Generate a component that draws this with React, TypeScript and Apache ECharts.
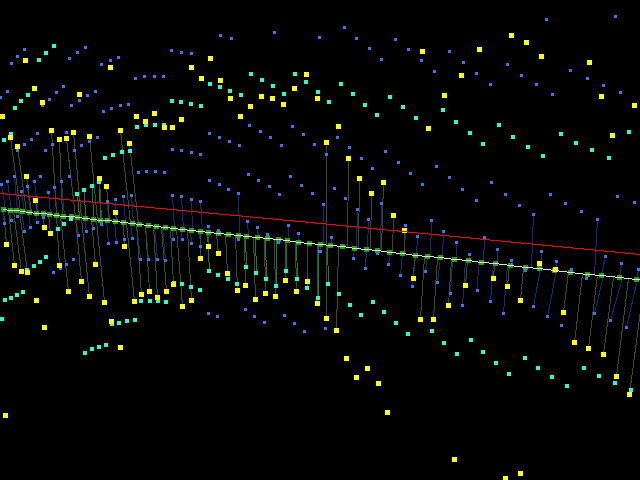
import React, { useEffect, useRef } from "react";
import * as echarts from "echarts";

const redLine = [[0,193],[160,208],[320,223],[495,240],[640,254]];
const baseline = [[3,209],[10,210],[16,210],[22,211],[29,212],[36,213],[43,213],[49,214],[56,215],[63,216],[71,216],[77,217],[85,218],[93,219],[100,220],[107,220],[115,221],[123,222],[132,223],[139,224],[148,225],[156,226],[165,227],[173,228],[182,229],[191,230],[200,231],[208,232],[218,233],[228,234],[238,235],[246,236],[257,237],[267,238],[278,239],[287,240],[298,242],[309,243],[320,244],[330,245],[342,246],[354,248],[366,249],[377,250],[389,252],[402,253],[415,255],[427,256],[440,257],[454,259],[468,260],[481,262],[495,263],[510,265],[525,267],[539,268],[554,270],[570,272],[587,274],[601,275],[619,277],[636,279],[654,281]];

const yellowFree = [[25,60],[110,67],[210,58],[191,67],[201,78],[220,80],[306,74],[294,88],[34,88],[79,94],[42,102],[2,116],[230,98],[261,96],[272,98],[283,104],[317,98],[250,106],[240,116],[136,116],[154,113],[145,121],[181,119],[164,127],[172,127],[511,35],[526,42],[541,56],[479,49],[422,51],[589,62],[461,75],[444,95],[601,96],[634,105],[428,128],[612,135],[338,126],[36,300],[44,327],[111,321],[120,347],[5,415],[346,358],[367,368],[356,377],[378,383],[387,412],[454,459],[520,473],[505,478]];
// mark x, mark y, x where its stem meets the baseline
const yellowStems = [[10,137,20],[17,146,26],[26,176,31],[35,200,37],[44,227,42],[50,233,48],[51,130,56],[59,139,62],[66,138,75],[73,132,81],[89,136,97],[99,178,101],[106,186,109],[115,212,116],[120,130,130],[129,143,138],[326,142,326],[348,158,347],[359,178,358],[383,182,381],[371,193,370],[393,215,392],[404,230,404],[14,265,8],[21,271,13],[27,272,19],[6,244,3],[59,265,56],[68,291,60],[81,281,75],[89,296,81],[95,264,91],[104,302,96],[124,246,123],[134,301,126],[141,294,136],[149,291,145],[157,297,153],[166,291,161],[173,284,170],[182,306,176],[191,300,187],[200,258,200],[208,246,208],[218,253,216],[227,273,225],[237,290,235],[245,285,244],[255,299,253],[265,293,264],[275,296,274],[285,280,285],[296,291,295],[307,281,307],[317,303,317],[326,318,326],[336,330,338],[413,278,414],[420,319,424],[433,319,437],[448,305,451],[465,285,467],[493,278,494],[507,286,509],[520,300,523],[539,263,539],[555,269,555],[563,312,568],[574,342,582],[588,348,597],[603,354,613],[616,376,628],[629,394,644]];

const blueFree = [[24,49],[17,56],[11,63],[85,47],[77,52],[69,58],[101,64],[110,60],[118,57],[220,35],[231,38],[274,32],[319,37],[171,50],[181,52],[191,53],[135,78],[144,76],[154,76],[163,76],[7,91],[0,97],[63,86],[56,92],[49,99],[42,105],[95,91],[87,95],[79,100],[71,105],[128,104],[120,105],[111,108],[103,111],[249,125],[260,131],[270,137],[281,145],[292,126],[303,134],[314,144],[209,133],[219,137],[229,141],[239,145],[37,133],[31,139],[24,144],[17,150],[66,132],[52,144],[45,150],[74,150],[81,145],[97,137],[89,141],[172,149],[181,150],[191,152],[200,154],[138,172],[146,171],[155,171],[164,172],[209,180],[219,184],[228,189],[248,174],[258,180],[269,186],[279,194],[290,176],[301,185],[312,193],[40,176],[69,176],[73,259],[66,264],[60,268],[53,272],[208,313],[217,316],[245,309],[254,316],[264,322],[284,315],[294,323],[304,331],[319,251],[344,27],[356,38],[369,48],[381,59],[395,39],[408,49],[421,60],[434,71],[449,51],[463,62],[476,73],[490,84],[507,64],[521,75],[536,84],[552,94],[546,19],[570,70],[587,78],[603,85],[620,92],[615,16],[337,137],[349,147],[361,158],[372,168],[385,151],[398,162],[410,173],[422,184],[436,166],[449,177],[462,189],[476,200],[491,182],[505,194],[519,205],[550,194],[565,203],[581,211],[617,196],[634,202],[326,154],[334,188],[345,198],[561,325],[325,328]];
const blueStems = [[1,184,5],[7,181,11],[14,176,17],[27,186,30],[21,191,24],[34,181,38],[48,192,50],[54,187,57],[61,181,64],[107,201,108],[115,199,116],[123,196,125],[131,195,133],[172,195,174],[181,196,183],[191,199,192],[200,201,202],[238,193,239],[247,221,248],[257,227,258],[267,234,267],[288,225,288],[298,233,298],[208,226,208],[218,230,218],[323,204,323],[357,209,356],[368,219,367],[381,203,380],[405,225,404],[417,236,416],[431,220,430],[443,231,442],[484,237,483],[533,214,531],[597,219,594],[331,237,331],[4,223,2],[11,220,9],[17,216,15],[43,217,42],[37,222,35],[30,227,28],[24,231,21],[101,224,100],[93,228,92],[86,231,84],[78,235,75],[140,259,136],[148,259,145],[157,259,154],[165,260,162],[124,239,122],[132,238,130],[173,239,171],[182,239,180],[108,243,106],[116,242,114],[191,243,190],[200,246,199],[238,239,237],[278,242,277],[320,251,320],[353,258,354],[365,268,366],[377,253,378],[388,264,390],[400,275,402],[412,286,415],[425,271,427],[437,282,440],[450,293,452],[462,305,465],[477,290,478],[490,301,493],[503,313,507],[456,242,456],[469,254,470],[497,249,497],[511,260,512],[525,270,525],[533,306,540],[547,316,556],[541,251,541],[556,261,556],[571,269,570],[586,278,590],[594,313,603],[610,320,622],[626,327,637],[605,256,601],[621,263,619],[638,269,636]];

const cyanFree = [[54,46],[46,53],[39,60],[28,95],[21,101],[15,108],[251,74],[262,80],[273,86],[284,94],[295,74],[306,82],[318,92],[210,84],[220,87],[230,91],[241,95],[172,101],[181,102],[191,104],[201,106],[137,127],[146,125],[155,125],[164,125],[11,134],[4,140],[122,152],[130,151],[113,155],[105,158],[58,229],[64,224],[71,219],[341,84],[353,94],[365,105],[377,115],[390,97],[403,107],[416,118],[443,110],[456,122],[470,133],[483,144],[499,125],[513,137],[528,147],[543,156],[561,134],[576,143],[592,150],[609,158],[629,132],[329,102],[46,257],[40,262],[34,266],[27,270],[5,300],[11,298],[17,295],[23,292],[2,319],[112,324],[119,323],[127,321],[135,320],[85,353],[92,349],[99,347],[106,345],[141,301],[150,301],[158,301],[166,302],[174,283],[182,284],[191,287],[200,290],[218,275],[228,279],[237,284],[339,294],[350,305],[361,315],[373,302],[384,312],[396,323],[408,334],[432,331],[444,343],[457,354],[471,340],[483,352],[496,363],[509,374],[525,358],[538,368],[552,377],[567,386],[584,368],[599,376],[615,383],[631,390]];
const cyanStems = [[209,271,207],[246,267,245],[256,273,255],[266,279,265],[276,286,276],[286,271,286],[297,279,296],[307,288,307],[318,298,318],[328,284,327],[77,194,79],[84,190,85],[92,186,93],[99,182,100]];

function baselineY(x: number) {
  for (let i = 1; i < baseline.length; i++) {
    if (x <= baseline[i][0]) {
      const [x0, y0] = baseline[i - 1];
      const [x1, y1] = baseline[i];
      return y0 + ((y1 - y0) * (x - x0)) / (x1 - x0);
    }
  }
  return baseline[baseline.length - 1][1];
}

const stemSeries = (stems: number[][], color: string) => ({
  type: "lines",
  coordinateSystem: "cartesian2d",
  polyline: false,
  silent: true,
  lineStyle: { color, width: 1, opacity: 1 },
  data: stems.map(([x, y, fx]) => ({ coords: [[x + 0.5, y + 0.5], [fx + 0.5, baselineY(fx) + 0.5]] })),
});

const odd = (pts: number[][]) => pts.map(([x, y]) => [x + 0.5, y + 0.5]);
const marks = (stems: number[][]) => stems.map(([x, y]) => [x, y]);

const markSeries = (data: number[][], color: string, size: number | number[]) => ({
  type: "scatter",
  symbol: "rect",
  symbolSize: size,
  silent: true,
  itemStyle: { color, opacity: 1 },
  data,
});

export default function App() {
  const ref = useRef<HTMLDivElement>(null);
  useEffect(() => {
    const chart = echarts.init(ref.current!, undefined, { renderer: "svg" });
    chart.setOption({
      animation: false,
      backgroundColor: "#000000",
      tooltip: { show: false },
      grid: { left: 0, right: 0, top: 0, bottom: 0 },
      xAxis: { type: "value", min: 0, max: 640, show: false },
      yAxis: { type: "value", min: 0, max: 480, inverse: true, show: false },
      series: [
        stemSeries(blueStems, "#0a2a90"),
        stemSeries(cyanStems, "#00805f"),
        stemSeries(yellowStems, "#3c5200"),
        markSeries(odd(baseline), "#22a500", 5.5),
        {
          type: "line",
          data: odd(redLine),
          showSymbol: false,
          silent: true,
          lineStyle: { color: "#ff0000", width: 1 },
        },
        {
          type: "line",
          data: odd(baseline),
          showSymbol: false,
          silent: true,
          lineStyle: { color: "#e0e0e0", width: 1 },
        },
        markSeries(odd([...blueFree, ...marks(blueStems)]), "#2f78ff", 3.5),
        markSeries([...cyanFree, ...marks(cyanStems)], "#1fffd0", 4.5),
        markSeries(odd([...yellowFree, ...marks(yellowStems)]), "#ffff00", 5.5),
      ],
    });
    return () => chart.dispose();
  }, []);
  return (
    <>
      <style>{`svg path { shape-rendering: crispEdges; }`}</style>
      <div ref={ref} style={{ position: "absolute", left: 0, top: 0, width: 640, height: 480 }} />
    </>
  );
}
